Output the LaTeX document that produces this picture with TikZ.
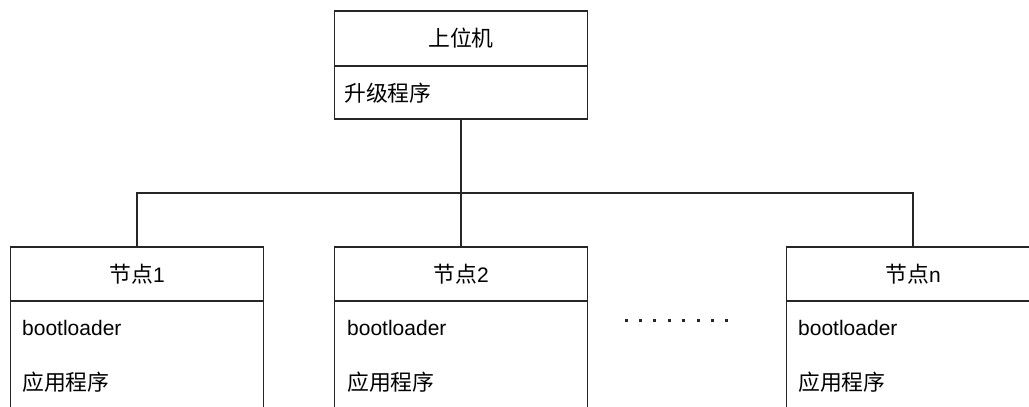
\documentclass[tikz,border=0pt]{standalone}
\usepackage{fontspec}
\setmainfont{Liberation Sans}
\newfontfamily\cjk[Scale=1.04]{Noto Sans CJK SC}
\begin{document}
\begin{tikzpicture}[x=1pt,y=-1pt,
  box/.style={draw=black!85,line width=1.5pt,rectangle,minimum width=253pt,inner sep=0pt,outer sep=0pt},
  lbl/.style={font=\fontsize{21}{24}\selectfont,inner sep=0pt,anchor=west},
  ttl/.style={font=\fontsize{21}{24}\selectfont,inner sep=0pt},
  wire/.style={draw=black!85,line width=1.5pt},
  dot/.style={fill=black!85,draw=none,minimum size=3pt,inner sep=0pt,rectangle}]
\path[use as bounding box,clip] (0,0) rectangle (1029,407);
% top box
\node[box,minimum height=55pt,anchor=north] (tophead) at (461,11) {};
\node[box,minimum height=53pt,anchor=north] (topbody) at (tophead.south) {};
\node[ttl] (toptitle) at (tophead.center) {\cjk 上位机};
\node[lbl] (topitem) at (344,93) {\cjk 升级程序};
% node 1
\node[box,minimum height=54pt,anchor=north] (h1) at (137,247) {};
\node[box,minimum height=140pt,anchor=north] (b1) at (h1.south) {};
\node[ttl] (t1) at (h1.center) {{\cjk 节点}1};
\node[lbl] (a1) at (22,328) {bootloader};
\node[lbl] (c1) at (22,382) {\cjk 应用程序};
% node 2
\node[box,minimum height=54pt,anchor=north] (h2) at (461,247) {};
\node[box,minimum height=140pt,anchor=north] (b2) at (h2.south) {};
\node[ttl] (t2) at (h2.center) {{\cjk 节点}2};
\node[lbl] (a2) at (347,328) {bootloader};
\node[lbl] (c2) at (347,382) {\cjk 应用程序};
% node n
\node[box,minimum height=54pt,anchor=north] (hn) at (913,247) {};
\node[box,minimum height=140pt,anchor=north] (bn) at (hn.south) {};
\node[ttl] (tn) at (hn.center) {{\cjk 节点}n};
\node[lbl] (an) at (798,328) {bootloader};
\node[lbl] (cn) at (798,382) {\cjk 应用程序};
% connectors
\coordinate (bus) at (461,193);
\path[wire] (topbody.south) -- (h2.north);
\path[wire] (h1.north) |- (bus) -| (hn.north);
% dots
\foreach \i [count=\j] in {0,...,7}
  \node[dot] (d\j) at ({626+\i*14.4},320) {};
\end{tikzpicture}
\end{document}
